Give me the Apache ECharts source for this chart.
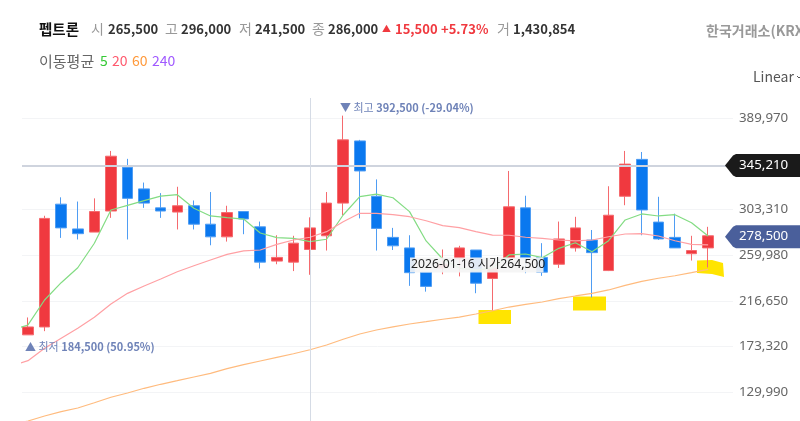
<!DOCTYPE html>
<html><head><meta charset="utf-8">
<style>html,body{margin:0;padding:0;background:#fff}#c{width:800px;height:421px}</style>
<script src="https://cdn.jsdelivr.net/npm/echarts@6/dist/echarts.min.js"></script>
</head><body><div id="c"></div>
<script>
const opens=[184500,192000,308500,285000,282000,302000,343500,323000,305000,301000,307000,289500,277500,301500,287000,254500,253500,265500,278500,309500,368500,316000,277000,267000,244000,248000,256500,265000,238000,257500,305000,258000,251500,267000,274500,245500,316000,351000,291500,277000,261500,267000];
const closes=[192000,295000,286000,280500,301500,354000,314000,309500,302000,307000,289500,277500,300500,294500,253500,258000,271500,286000,309500,369500,340000,285500,269000,243500,230500,251500,267000,233500,248000,306000,257500,244000,275500,286000,262500,298000,346500,303000,275500,267000,264500,278500];
const lows=[184500,188000,276500,275000,282000,295500,275000,305000,295500,284500,284500,269500,273000,280000,247500,251500,245000,241500,264500,298000,295000,264500,265000,231000,225500,242000,240000,224000,207500,257500,243000,240500,248000,263500,220000,245000,307500,279000,274500,267000,255000,248500];
const highs=[201000,297500,315000,311000,314000,359000,351500,329000,319000,325000,312000,320000,307000,301500,292000,279000,278500,296000,320000,392500,369500,332000,286000,279000,244000,265500,269000,265000,255500,340000,316500,271500,292000,296500,284000,325500,359000,358000,315500,299500,278500,287000];
const ma5=[189100,193900,217600,234000,248200,271400,303000,307400,311800,316200,317500,304600,297300,295700,294400,281100,276700,276100,272900,275200,298200,315600,318100,314600,301400,273600,256500,247900,246000,247900,260300,261200,257700,266600,271900,263400,273800,293500,299200,297300,298500,290900,278300];
const ma20=[155000,160000,171700,181200,190700,201200,213800,223900,230900,237500,244400,250100,255500,260900,264100,265000,270400,274500,277100,282400,291900,299800,299800,298500,296600,292800,288100,286200,282400,279200,279000,277100,276100,274500,273600,274500,277600,280200,280500,278300,273800,270400,269800];
const ma60=[99000,102800,107500,111600,115100,120100,125300,129300,133800,137600,141000,144500,148000,152400,156200,159700,163200,166600,170400,174900,180300,185300,189100,192000,194800,197000,199300,201400,204300,207400,210900,213500,215700,218800,221400,223900,227100,231500,235300,238200,240600,243500,246700];
const tickValues=[129990,173320,216650,259980,303310,389970];
const crossPrice=345210, lastPrice=278500, crossIndex=17;

const base='"Noto Sans","Noto Sans CJK KR",sans-serif';
const kr='"Noto Sans CJK KR","Noto Sans",sans-serif';
function T(x,y,text,fill,size,weight,z,align){
  return {type:'text',x:x,y:y,z:z||5,silent:true,style:{text:text,fill:fill,font:(weight||'normal')+' '+(size||14)+'px '+kr,textVerticalAlign:'middle',textAlign:align||'left'}};
}
function tag(y,color,label){
  return [
   {type:'polygon',z:6,silent:true,shape:{points:[[725,y],[733,y-10],[736,y-11.5],[800,y-11.5],[800,y+11.5],[736,y+11.5],[733,y+10]]},style:{fill:color}},
   {type:'text',x:739,y:y,z:7,silent:true,style:{text:label,fill:'#fff',font:'13.3px '+base,textVerticalAlign:'middle'}}
  ];
}
const fmt=v=>v.toLocaleString('en-US');
const graphics=[
 T(39,29,'펩트론','#111',14.5,'bold'),
 T(91,29,'시','#999',14), T(108,29,fmt(opens[crossIndex]),'#333',13,'bold'),
 T(165,29,'고','#999',14), T(181,29,fmt(highs[crossIndex]),'#333',13,'bold'),
 T(239,29,'저','#999',14), T(255,29,fmt(lows[crossIndex]),'#333',13,'bold'),
 T(312,29,'종','#999',14), T(328,29,fmt(closes[crossIndex]),'#333',13,'bold'),
 T(382,29,'▲','#f0393f',9), T(395,29,'15,500','#f0393f',13,'bold'), T(441,29,'+5.73%','#f0393f',13,'bold'),
 T(497,29,'거','#999',14), T(513,29,'1,430,854','#333',13,'bold'),
 T(706,31,'한국거래소(KRX','#999',14,'bold'),
 T(39,61,'이동평균','#666',15),
 T(100,61,'5','#35c935',14), T(112,61,'20','#ff5a6e',14), T(132,61,'60','#ff9a3c',14), T(152,61,'240','#a05aff',14),
 T(753,77,'Linear','#555',14),
 {type:'polyline',z:5,silent:true,shape:{points:[[797,76],[799,78],[800,77]]},style:{stroke:'#555',fill:null,lineWidth:1}},
 {type:'text',x:340,y:108,z:5,silent:true,style:{rich:{a:{fill:'#6f83b8',font:'11px '+kr},b:{fill:'#6f83b8',font:'bold 11px '+kr}},text:'{a|▼ 최고 }{b|392,500 (-29.04%)}',textVerticalAlign:'middle'}},
 {type:'text',x:25,y:346.5,z:5,silent:true,style:{rich:{a:{fill:'#6f83b8',font:'11px '+kr},b:{fill:'#6f83b8',font:'bold 11px '+kr}},text:'{a|▲ 최저 }{b|184,500 (50.95%)}',textVerticalAlign:'middle'}},
 {type:'rect',z:1,silent:true,shape:{x:478.5,y:310,width:32.5,height:14},style:{fill:'#ffe400'}},
 {type:'rect',z:1,silent:true,shape:{x:573,y:296.5,width:33,height:14},style:{fill:'#ffe400'}},
 {type:'polygon',z:1,silent:true,shape:{points:[[697,260.5],[712,260],[723,263],[724,277],[712,274],[697,273]]},style:{fill:'#ffe400'}},
 {type:'rect',z:20,silent:true,shape:{x:410,y:257.5,width:133.5,height:15},style:{fill:'rgba(244,244,244,0.92)'}},
 {type:'text',x:411,y:265,z:21,silent:true,style:{text:'2026-01-16 시가264,500',fill:'#222',font:'12.2px '+base,textVerticalAlign:'middle'}},
 ...tag(165.6,'#1a1a1a',fmt(crossPrice)),
 ...tag(236.7,'#4a5f9b',fmt(lastPrice))
];
const ohlc=opens.map((o,i)=>[i,o,closes[i],lows[i],highs[i]]);
const ln=(a)=>a.map((v,i)=>[i-1,v]);
const line=(name,data,color)=>({name:name,type:'line',data:ln(data),showSymbol:false,symbol:'none',z:4,silent:true,lineStyle:{color:color,width:1.2}});
const chart=echarts.init(document.getElementById('c'),null,{renderer:'canvas'});
chart.setOption({
 animation:false,
 grid:{left:22,right:67,top:98,bottom:0},
 xAxis:{type:'value',min:-0.3617,max:42.5,show:false,splitLine:{show:false}},
 yAxis:{type:'value',position:'right',min:102770,max:409230,scale:true,
   axisLine:{show:false},
   axisTick:{show:false,customValues:tickValues},
   axisLabel:{customValues:tickValues,margin:6,color:'#666',fontSize:13.3,fontFamily:base,formatter:v=>fmt(v),showMinLabel:true,showMaxLabel:true},
   splitLine:{show:true,lineStyle:{color:'#f3f4f6',width:1}}},
 graphic:{elements:graphics},
 series:[
  {type:'line',data:[],z:1,silent:true,markLine:{silent:true,symbol:'none',animation:false,label:{show:false},
    data:[{yAxis:crossPrice,lineStyle:{color:'#cfd4de',width:2,type:'solid'}},{xAxis:crossIndex,lineStyle:{color:'#d5dbe5',width:1,type:'solid'}}]}},
  {type:'candlestick',data:ohlc,z:3,barWidth:11,encode:{x:0,y:[1,2,3,4]},silent:true,
   itemStyle:{color:'#f0393f',color0:'#0a78ef',borderColor:'#f56a6e',borderColor0:'#4f9df3',borderWidth:1}},
  line('MA5',ma5,'#83dc83'),
  line('MA20',ma20,'#ffa0a4'),
  line('MA60',ma60,'#ffbb7e')
 ]
});
</script></body></html>
